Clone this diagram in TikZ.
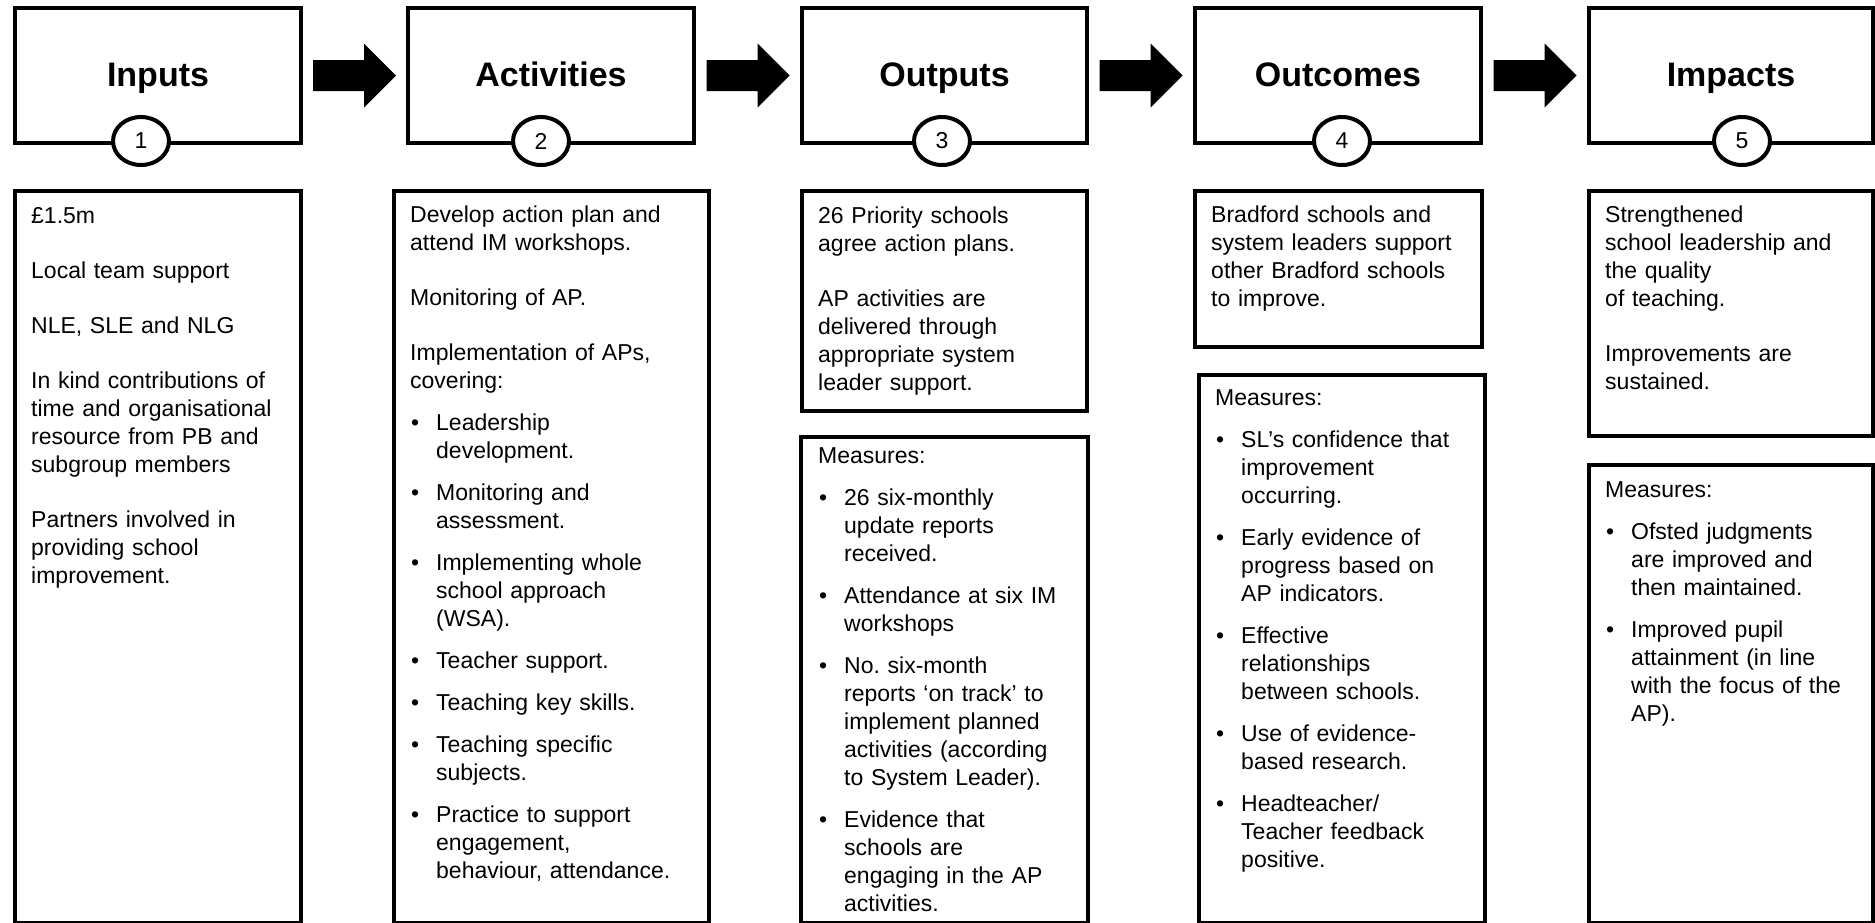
\documentclass[tikz,border=0pt]{standalone}
\usepackage{fontspec}
\setmainfont{Liberation Sans}
\usetikzlibrary{shapes.geometric,calc}
\frenchspacing
\newcommand\bodyfont{\fontsize{23}{28}\selectfont}
\newcommand\bitem[1]{\par\vspace{14pt}\hangindent=26pt\hangafter=1\noindent\makebox[26pt][l]{\hspace{1pt}\textbullet}#1}
\newcommand\pgap{\par\vspace{27pt}\noindent}
\begin{document}
\begin{tikzpicture}[x=1pt,y=-1pt,
  box/.style={draw, line width=4pt, rectangle, inner sep=0pt, anchor=north west, fill=white},
  num/.style={draw, line width=4pt, ellipse, fill=white, minimum width=56pt, minimum height=48pt, inner sep=0pt, font=\fontsize{23}{28}\selectfont},
  title/.style={anchor=base, inner sep=0pt, font=\fontsize{34}{40}\selectfont\bfseries},
  txt/.style={anchor=base west, inner sep=0pt, text width=420pt, align=left, font=\bodyfont},
  barrow/.pic={\fill[black] (-41.5,-15.5) -- (9.5,-15.5) -- (9.5,-32) -- (41.5,0) -- (9.5,32) -- (9.5,15.5) -- (-41.5,15.5) -- cycle;}
]
\useasboundingbox (0,0) rectangle (1875,922);

% top boxes
\node[box, minimum width=286pt, minimum height=135pt] (inT)  at (13,6)   {};
\node[box, minimum width=286pt, minimum height=135pt] (actT) at (406,6)  {};
\node[box, minimum width=285pt, minimum height=135pt] (outT) at (800,6)  {};
\node[box, minimum width=286pt, minimum height=135pt] (ocT)  at (1193,6) {};
\node[box, minimum width=284pt, minimum height=135pt] (impT) at (1587,6) {};

\node[title] (inTt)  at ($(inT.center)+(0,11)$)  {Inputs};
\node[title] (actTt) at ($(actT.center)+(0,11)$) {Activities};
\node[title] (outTt) at ($(outT.center)+(0,11)$) {Outputs};
\node[title] (ocTt)  at ($(ocT.center)+(0,11)$)  {Outcomes};
\node[title] (impTt) at ($(impT.center)+(0,11)$) {Impacts};

\node[num] (n1) at (141,141)  {1};
\node[num] (n2) at (541,141)  {2};
\node[num] (n3) at (942,141)  {3};
\node[num] (n4) at (1342,141) {4};
\node[num] (n5) at (1742,141) {5};

% block arrows between the top boxes
\path (inT.east)  -- (actT.west) coordinate[midway] (a1);
\path (actT.east) -- (outT.west) coordinate[midway] (a2);
\path (outT.east) -- (ocT.west)  coordinate[midway] (a3);
\path (ocT.east)  -- (impT.west) coordinate[midway] (a4);
\pic at (a1) {barrow};
\pic at (a2) {barrow};
\pic at (a3) {barrow};
\pic at (a4) {barrow};

% lower boxes
\node[box, minimum width=286pt, minimum height=732pt] (inB)  at (13,189)   {};
\node[box, minimum width=315pt, minimum height=732pt] (actB) at (392,189)  {};
\node[box, minimum width=285pt, minimum height=220pt] (outB) at (800,189)  {};
\node[box, minimum width=287pt, minimum height=486pt] (outM) at (799,435)  {};
\node[box, minimum width=287pt, minimum height=156pt] (ocB)  at (1193,189) {};
\node[box, minimum width=286pt, minimum height=548pt] (ocM)  at (1197,373) {};
\node[box, minimum width=284pt, minimum height=245pt] (impB) at (1587,189) {};
\node[box, minimum width=284pt, minimum height=458pt] (impM) at (1587,463) {};

\node[txt] (inBx) at (31,223) {£1.5m\pgap Local team support\pgap NLE, SLE and NLG\pgap In kind contributions of\newline time and organisational\newline resource from PB and\newline subgroup members\pgap Partners involved in\newline providing school\newline improvement.\par};

\node[txt] (actBx) at (410,222) {Develop action plan and\newline attend IM workshops.\pgap Monitoring of AP.\pgap Implementation of APs,\newline covering:\bitem{Leadership\newline development.}\bitem{Monitoring and\newline assessment.}\bitem{Implementing whole\newline school approach\newline (WSA).}\bitem{Teacher support.}\bitem{Teaching key skills.}\bitem{Teaching specific\newline subjects.}\bitem{Practice to support\newline engagement,\newline behaviour, attendance.}\par};

\node[txt] (outBx) at (818,223) {26 Priority schools\newline agree action plans.\pgap AP activities are\newline delivered through\newline appropriate system\newline leader support.\par};

\node[txt] (outMx) at (818,463) {Measures:\bitem{26 six-monthly\newline update reports\newline received.}\bitem{Attendance at six IM\newline workshops}\bitem{No. six-month\newline reports ‘on track’ to\newline implement planned\newline activities (according\newline to System Leader).}\bitem{Evidence that\newline schools are\newline engaging in the AP\newline activities.}\par};

\node[txt] (ocBx) at (1211,222) {Bradford schools and\newline system leaders support\newline other Bradford schools\newline to improve.\par};

\node[txt] (ocMx) at (1215,405) {Measures:\bitem{SL’s confidence that\newline improvement\newline occurring.}\bitem{Early evidence of\newline progress based on\newline AP indicators.}\bitem{Effective\newline relationships\newline between schools.}\bitem{Use of evidence-\newline based research.}\bitem{Headteacher/\newline Teacher feedback\newline positive.}\par};

\node[txt] (impBx) at (1605,222) {Strengthened\newline school leadership and\newline the quality\newline of teaching.\pgap Improvements are\newline sustained.\par};

\node[txt] (impMx) at (1605,497) {Measures:\bitem{Ofsted judgments\newline are improved and\newline then maintained.}\bitem{Improved pupil\newline attainment (in line\newline with the focus of the\newline AP).}\par};
\end{tikzpicture}
\end{document}
